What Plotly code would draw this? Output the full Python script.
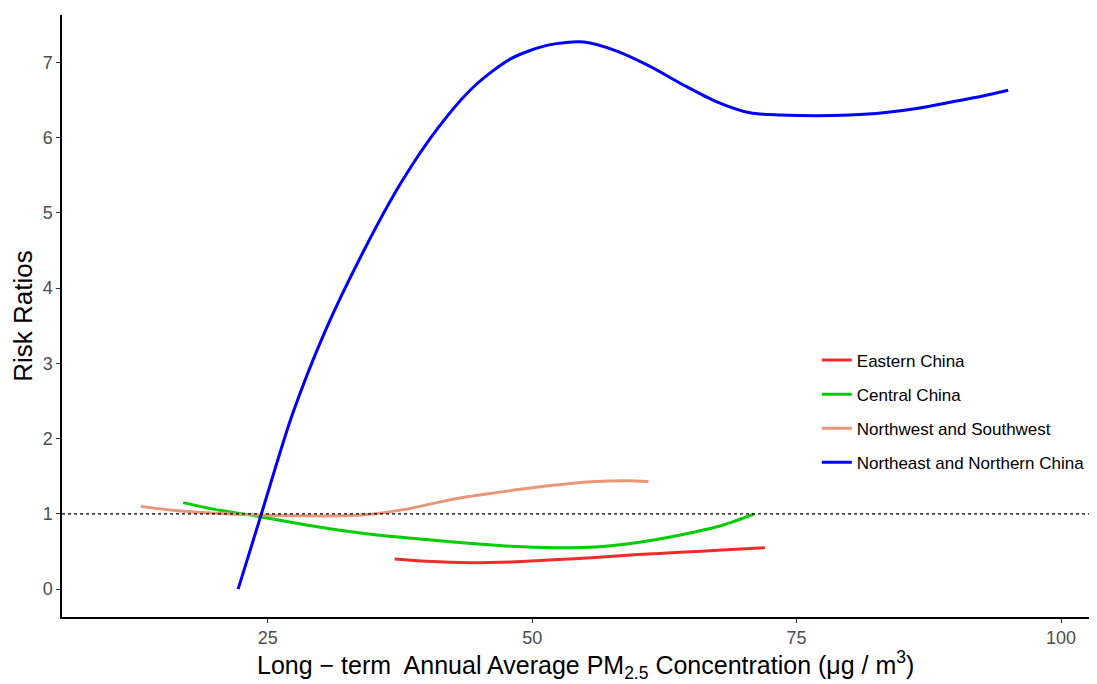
import plotly.graph_objects as go

# Data
east_x = [37, 40, 44, 48, 52, 56, 60, 64, 68, 72]
east_y = [0.40, 0.37, 0.35, 0.36, 0.39, 0.42, 0.46, 0.49, 0.52, 0.55]

central_x = [17, 20, 24, 28, 32, 36, 40, 44, 48, 52, 56, 60, 64, 68, 71]
central_y = [1.15, 1.06, 0.97, 0.87, 0.78, 0.71, 0.66, 0.61, 0.57, 0.55, 0.56, 0.62, 0.72, 0.85, 1.0]

nwsw_x = [13, 16, 20, 24, 28, 32, 35, 38, 41, 44, 48, 52, 56, 59, 61]
nwsw_y = [1.10, 1.05, 1.01, 0.985, 0.975, 0.975, 1.0, 1.06, 1.15, 1.23, 1.31, 1.38, 1.43, 1.44, 1.43]

ne_x = [22.2, 24.4, 27.3, 30.4, 34.2, 37.6, 41.1, 44.5, 48.0, 51.5, 54.9, 58.0, 61.1, 64.3, 67.4,
        70.6, 73.5, 76.9, 80.0, 83.2, 86.5, 89.5, 92.5, 95.0]
ne_y = [0.0, 1.0, 2.31, 3.42, 4.53, 5.40, 6.13, 6.68, 7.05, 7.23, 7.27, 7.15, 6.95, 6.70, 6.48,
        6.33, 6.30, 6.29, 6.30, 6.33, 6.39, 6.47, 6.55, 6.63]

x_title = "Long − term  Annual Average PM<sub>2.5</sub> Concentration (μg / m<sup>3</sup>)"
y_title = "Risk Ratios"

series = [
    ("Eastern China", east_x, east_y, "#EE2C2C"),
    ("Central China", central_x, central_y, "#00CD00"),
    ("Northwest and Southwest", nwsw_x, nwsw_y, "#E9967A"),
    ("Northeast and Northern China", ne_x, ne_y, "#0000FF"),
]

fig = go.Figure()
for name, xs, ys, col in series:
    fig.add_trace(go.Scatter(x=xs, y=ys, mode="lines", name=name, legendgroup=name,
                             line=dict(color=col, width=3, shape="spline", smoothing=0.8)))

fig.add_hline(y=1, line=dict(color="black", width=1.2, dash="dot"))

font = "Liberation Sans, Arial, sans-serif"
fig.add_annotation(text=x_title, xref="paper", yref="paper", x=0.506, y=-0.0797,
                   xanchor="center", yanchor="middle", showarrow=False,
                   font=dict(size=25, family=font, color="black"))

fig.update_layout(
    width=1089, height=676,
    margin=dict(l=54, r=0, t=7, b=67),
    paper_bgcolor="white", plot_bgcolor="white",
    font=dict(family=font, color="black"),
    showlegend=True,
    legend=dict(x=0.7293, y=0.456, xanchor="left", yanchor="top",
                font=dict(size=17, family=font, color="black"),
                bgcolor="rgba(0,0,0,0)", tracegroupgap=9, itemwidth=30),
    xaxis=dict(range=[5.55, 103.4], tickvals=[25, 50, 75, 100], showgrid=False, zeroline=False,
               showline=True, linecolor="black", linewidth=1.5, ticks="outside", ticklen=4,
               tickcolor="#333333", tickfont=dict(size=18, color="#4D4D4D", family=font),
               automargin=False),
    yaxis=dict(range=[-0.37, 7.63], tickvals=[0, 1, 2, 3, 4, 5, 6, 7], showgrid=False, zeroline=False,
               showline=True, linecolor="black", linewidth=1.5, ticks="outside", ticklen=4,
               tickcolor="#333333", tickfont=dict(size=18, color="#4D4D4D", family=font),
               automargin=False,
               title=dict(text=y_title, font=dict(size=26, family=font, color="black"), standoff=6)),
)

fig.write_html("out.html")
